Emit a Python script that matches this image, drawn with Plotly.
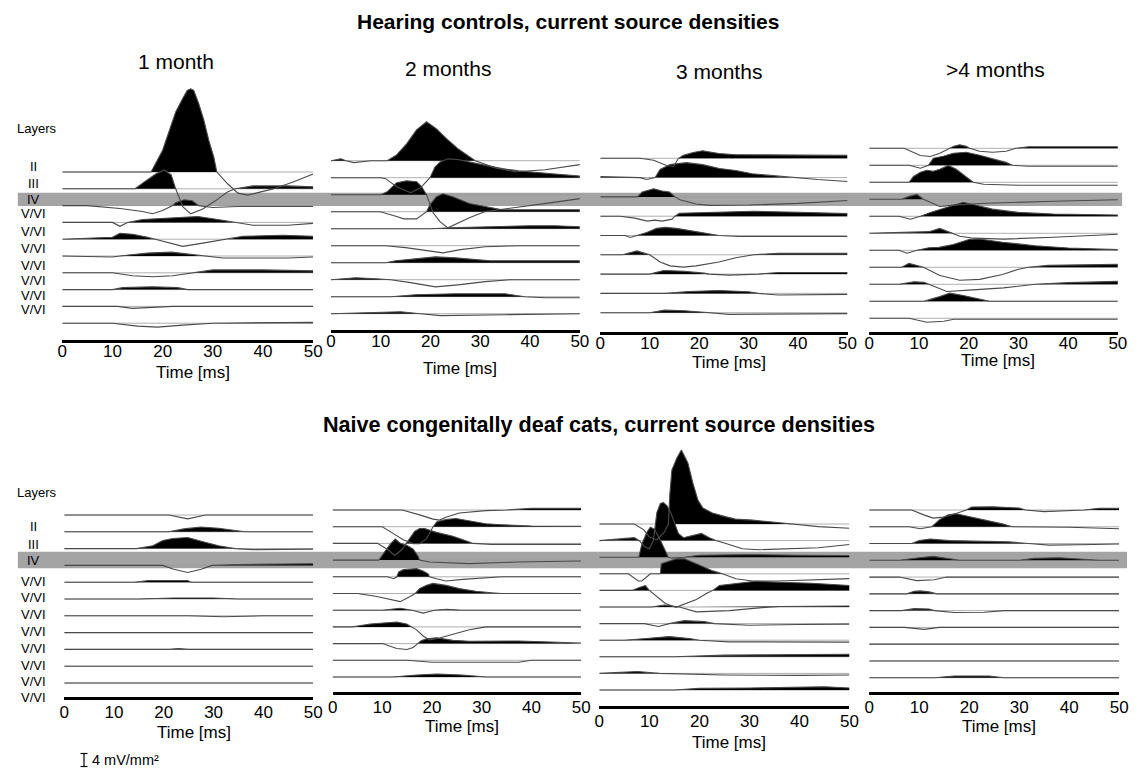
import plotly.graph_objects as go

# ---------------- data ----------------
time_ticks = [0, 10, 20, 30, 40, 50]
group_titles = ["Hearing controls, current source densities",
                "Naive congenitally deaf cats, current source densities"]
age_titles = ["1 month", "2 months", "3 months", ">4 months"]
layer_labels_hc = ["Layers", "II", "III", "IV"] + ["V/VI"] * 7
layer_labels_cd = ["Layers", "II", "III", "IV"] + ["V/VI"] * 8
scale_bar_value = 4  # mV/mm²

# Each CSD trace: list of (time [ms], CSD [mV/mm²]); positive = sink (filled)
hc_1m = [
    [(0,0),(17.7,0),(20,6.7),(21.3,12.8),(22.6,18.5),(24,22.6),(24.9,25.1),(25.6,25.6),(26.2,25.1),(27.2,21),(28.2,16),(29.2,9.7),(30.2,4.6),(30.8,0),(33,-3.7),(35,-6.5),(37,-7.1),(42,-5.2),(46,-3.1),(50,-0.6)],
    [(0,0),(14.5,0),(16.7,2.5),(18.7,4.6),(20.3,5.8),(21.7,4.3),(22.6,0),(24,-5.5),(25.6,-7.7),(28,-6.2),(30.5,-3.7),(33,-0.9),(34.5,0),(38,0.9),(45,0.9),(50,0.6)],
    [(0,0),(5,0),(11.5,-0.9),(16,-1.8),(18,-2.5),(20,-1.5),(22,0),(22.6,0.9),(24.3,1.8),(25.9,1.5),(27.2,0),(30,-0.6),(35,-0.3),(50,-0.3)],
    [(0,0),(10,0),(11.5,-1.2),(13,0),(16,0.9),(22,1.5),(27,1.8),(31,0.9),(34.4,0),(38,-0.9),(45,-0.9),(50,-0.3)],
    [(0,0),(5,0.3),(10,0.6),(11.5,1.8),(14,1.5),(17,0.6),(18.5,0),(21,-1.2),(24,-2.2),(28,-1.2),(33,0),(36,0.9),(44,1.2),(50,0.9)],
    [(0,0),(10,-0.3),(11.5,0),(13,0.3),(17,0.9),(21.7,1.2),(25,0.6),(28,0),(32,-0.6),(45,-0.6),(50,-0.3)],
    [(0,0),(10,0),(14,-0.9),(18,-1.2),(22,-0.9),(26,0),(30,0.9),(40,0.9),(50,0.6)],
    [(0,0),(10,0),(12,0.6),(18,0.9),(23,0.6),(25,0),(50,0)],
    [(0,0),(11,0),(14,-0.6),(18,-0.3),(22,0),(50,0)],
    [(0,0),(10,0),(15,-0.9),(19,-1.2),(24,-0.6),(30,0),(50,0.3)],
]
hc_2m = [
    [(0,0),(2,0.6),(3,0),(4.6,-0.6),(8,0),(11.3,0),(13.2,1.8),(15.2,5.2),(17.2,9.5),(19.2,12),(21.2,9.8),(23.2,6.8),(25.5,3.7),(28,0.9),(29,0),(33,-2.2),(37,-3.4),(43,-2.8),(50,-1.2)],
    [(0,0),(10,0),(11,-0.3),(13.2,-2.8),(16,-4.6),(18,-3.1),(19.9,0),(20.9,3.3),(21.9,4.8),(23.5,5.8),(25.5,5.6),(27.8,4.8),(31.1,3.8),(34.4,2.8),(37.7,2.1),(44.4,1.2),(50,0.5)],
    [(0,0),(10,0),(11.3,0.9),(13.2,3.7),(15.2,4.3),(17.2,4),(18.2,2.5),(19.2,0),(20.5,-5.5),(21.9,-8.3),(23.5,-10.2),(24.5,-9.5),(27.8,-7.1),(31,-5.2),(37.7,-3.7),(44,-2.5),(50,-1.2)],
    [(0,0),(9.9,0),(13.2,-1.5),(14.6,-2.2),(17.2,-2.2),(18.5,-0.6),(19.2,0),(19.9,2.2),(21.2,4.6),(22.5,5.5),(24.5,4.6),(27.8,2.5),(31,1.5),(34.4,0.6),(50,0.6)],
    [(0,0),(20,0),(24,0.3),(30,0.6),(40,0.9),(45,0.9),(50,0.6)],
    [(0,0),(11,0),(15,-0.6),(18,-1.2),(22.5,-2.2),(26,-1.2),(31,-0.3),(38,0),(50,0)],
    [(0,0),(11,0),(13,0.6),(17,1.2),(21,1.8),(25,1.5),(29,0.9),(32,0.6),(50,0.6)],
    [(0,0),(5,0.6),(9,0.3),(12,0),(16,-0.9),(21,-2.2),(26,-1.5),(31,-0.6),(36,0),(50,0)],
    [(0,0),(12,0),(17,0.6),(25,0.9),(35,0.9),(39,0),(43,-0.3),(50,-0.3)],
    [(0,0),(10,0.3),(14,0.6),(18,0),(22,-0.6),(35,-0.3),(50,0)],
]
hc_3m = [
    [(0,0),(8,0),(10.8,-0.6),(13.4,-2.2),(14.8,-2.5),(15.8,0),(16.8,0.9),(18.8,1.8),(20.7,2.3),(24,1.5),(27.4,1.1),(50,0.9)],
    [(0,0.3),(8,0),(9.4,-0.6),(10.5,-0.3),(11.1,0),(12.1,2.5),(14.1,4),(17.4,4.6),(20.7,4),(24.1,2.8),(27.4,2.2),(30.7,1.2),(36,0.5),(38.7,0),(44,-0.6),(50,-1.2)],
    [(0,0),(7.5,0),(8.5,1.5),(10.8,2.5),(12.5,1.8),(14,1.5),(15.1,0),(16.1,-0.9),(19.4,-2.2),(22,-2.6),(30,-2.5),(40,-2),(50,-1.1)],
    [(0,0),(4,0),(7,-0.6),(9.5,-1.5),(11,-1.2),(12.5,-1.5),(14.5,-0.9),(15.1,0),(16,0.9),(24,1.2),(31,1.5),(40,1.2),(50,0.8)],
    [(0,0),(5,0),(6.1,-0.6),(7.4,0),(9.4,0.9),(11.4,2.2),(13.1,2.5),(15.4,2.2),(18.8,1.4),(22,0.6),(24,0),(28,-0.3),(50,-0.3)],
    [(0,0),(4.5,0),(7.4,1.2),(9,0.6),(10,0),(12.1,-2.2),(14.1,-3.4),(16.8,-3.8),(19.4,-3.4),(24,-2.2),(27.4,-0.9),(31,0),(36,0.5),(50,0.5)],
    [(0,0),(10,0),(12.8,1.1),(17,0.9),(21,0.3),(22,0),(26,-0.3),(32,0),(36,0.5),(50,0.5)],
    [(0,0),(13,0),(18,0.6),(24,0.9),(30,0.5),(32,0),(36,-0.5),(50,-0.3)],
    [(0,0),(10,0),(13,0.8),(17,0.6),(21,0.15),(22,0),(26,-0.5),(50,-0.3)],
]
hc_4m = [
    [(0,0),(7,0),(10.3,-2.2),(12.3,-2.5),(14.2,-1.5),(16.2,0),(17,0.6),(18.2,1.1),(19.5,0.6),(20.2,0),(22.2,-0.9),(24.8,-1.2),(27.5,-0.9),(29.5,0),(32,0.5),(50,0.5)],
    [(0,0),(8,0),(10.3,-0.9),(11.9,0),(12.9,2.2),(14.9,2.8),(16.9,3.7),(19.5,4),(22.2,3.1),(24.8,2),(27.5,0.9),(28.8,0),(32,-0.3),(50,-0.3)],
    [(0,0),(8,0),(8.9,1.8),(10.3,3.1),(11.6,3.7),(12.9,3.4),(14.2,4),(15.9,5.2),(17.5,4),(19.5,1.8),(20.9,0),(23,-0.6),(30,-0.9),(50,-0.9)],
    [(0,0),(6.5,0),(8,0.9),(9.6,1.5),(10.9,0),(12.3,-0.9),(14.2,-2.2),(17,-1.8),(23.5,-1.2),(37,-0.6),(50,-0.15)],
    [(0,0),(6,0),(8.3,-0.9),(10.3,0),(12.3,1.2),(14.9,2.5),(18.9,4.3),(21.5,3.4),(24.8,2.2),(30,1.2),(37,0.7),(50,0.4)],
    [(0,0),(5,0.3),(12,0.5),(14.2,1.5),(16.9,0),(18.2,-0.9),(21,-1.5),(27,-1.8),(37,-1.2),(50,-0.3)],
    [(0,0),(6,0),(7.6,-0.9),(9.6,0),(12,0.8),(14,0.9),(16.9,1.8),(20.2,3.4),(22.2,3.5),(26.8,2.5),(33.4,1.4),(40,0.7),(50,0.2)],
    [(0,0),(6.5,0),(8,1.2),(10,0.3),(10.9,0),(14.2,-2.5),(18.2,-4),(22.2,-3.7),(26.8,-2.2),(30,-0.6),(32,0),(36,0.6),(45,0.9),(50,0.9)],
    [(0,0),(6,0),(9,0.8),(11,0.6),(12,0),(15.6,-2.2),(20,-1.8),(27,-1.1),(33.4,0),(40,0.5),(50,0.9)],
    [(0,0),(11,0),(13.6,1.2),(16.2,2.5),(18.9,1.8),(21.5,0.9),(24.2,0),(50,0)],
    [(0,0),(8,0),(11.6,-1.2),(15,-0.9),(17,-0.3),(50,-0.3)],
]
cd_1m = [
    [(0,0),(21,0),(24.8,-1.2),(28.4,0),(50,0)],
    [(0,0),(21,0),(24,0.9),(27.4,1.5),(31,1.1),(34,0.5),(36.3,0),(50,0)],
    [(0,0),(14.5,0),(17.8,0.9),(19.8,2.5),(21.8,3.1),(24.8,3.4),(27.7,2.2),(31,0.9),(34.3,0),(38,-0.3),(50,-0.15)],
    [(0,0),(19.8,0),(22,-1.2),(24.8,-2.2),(27.5,-1.2),(29.7,0),(35,0.3),(50,0.5)],
    [(0,0),(14,0),(17,0.5),(22,0.6),(24.8,0.5),(25.5,0),(50,0)],
    [(0,0),(15,0),(22,0.3),(30,0.3),(35,0),(50,0)],
    [(0,0),(25,0),(32,-0.3),(40,0),(50,0)],
    [(0,0),(50,0)],
    [(0,0),(21,0),(23,0.3),(25,0),(50,0)],
    [(0,0),(50,0)],
    [(0,0),(50,0)],
]
cd_2m = [
    [(0,0),(14,0),(17.5,-1.5),(20.2,-2.8),(21.5,-3.1),(22.8,-2.2),(25.5,-0.9),(30.8,-0.2),(35,0),(40,0.5),(50,0.5)],
    [(0,0),(10,0),(12.3,-2.2),(14.2,-4),(16.2,-5.2),(17.5,-5.2),(18.9,-3.7),(20.2,0),(21,1.5),(22.8,2.2),(24.8,2.5),(27.5,1.8),(30.8,0.9),(34,0.6),(40,0.2),(50,0.15)],
    [(0,0),(9,0),(11,-1.8),(12.5,-3.7),(14,-1.8),(14.8,0),(15.6,1.8),(16.5,3.7),(17.5,4.6),(18.5,4.6),(20.9,3.4),(24.2,2.2),(27.5,0.4),(28.2,0),(32,-0.3),(50,-0.3)],
    [(0,0),(9.3,0),(10.3,2.2),(11.6,4.9),(12.6,6.5),(13.6,5.2),(14.9,4.6),(16.2,3.4),(17.2,1.2),(17.5,0),(19.5,-0.6),(23,-0.9),(27.5,-1.1),(37,-0.6),(50,-0.3)],
    [(0,0),(11,0),(12.3,-0.6),(12.9,0),(13.3,1.5),(14.2,2.2),(16.9,2.5),(18.2,1.8),(19.2,0.9),(19.5,0),(20.9,-0.6),(22.8,-1.3),(26.2,-0.8),(30.8,-0.3),(34,0),(50,0)],
    [(0,0),(5,0),(8.9,-0.9),(11.6,-1.8),(13.6,-2.5),(15.6,-0.9),(16.6,0),(17.5,1.5),(18.9,2.5),(20.2,3.1),(22.8,2.5),(25.5,1.5),(28.8,0.7),(32,0.2),(34,0),(50,0)],
    [(0,0),(10,0),(13.6,0.6),(16,0),(18.2,-0.9),(20.5,0),(23,0.3),(26,0),(50,0)],
    [(0,0),(4,0),(7.6,0.9),(10.9,1.2),(12.9,1.5),(14.9,0.9),(15.9,0),(16.9,-0.9),(18.2,-2.8),(19.5,-4),(21.5,-3.4),(24.2,-2.2),(27.5,-0.9),(30.8,0),(50,0)],
    [(0,0),(10,0),(12.9,-1.5),(14.9,-1.8),(16.2,-1.2),(17.2,0),(17.8,0.9),(18.9,1.5),(20.9,1.8),(24.2,1),(27.5,0.7),(37.4,0.8),(44,0.5),(50,0.2)],
    [(0,0),(15,0),(20,-0.6),(30,-0.5),(37.4,-0.6),(40,0),(50,0)],
    [(0,0),(12,0),(17,0.6),(21,0.9),(26,0.6),(31,0),(50,0)],
]
cd_3m = [
    [(0,0),(7,0),(8.9,-1.8),(10,-4),(11.5,-4.9),(13,-2.5),(13.8,0),(14.1,9.2),(14.5,16.6),(15.5,20.3),(16.4,22.8),(17.7,18.8),(18.7,12.6),(19.7,7.4),(20.7,4.9),(22.6,3.4),(25.3,2.2),(27.2,1.5),(30.6,1.2),(34,0.7),(38.5,0),(43.8,-0.8),(50,-1.3)],
    [(0,0),(4,0.6),(7,0.9),(8,0),(9,-1.8),(10,-2.5),(10.8,0),(11.5,8.6),(12.2,11.4),(12.8,11.7),(13.5,10.8),(14.3,8.6),(15.1,5.2),(15.8,2.2),(16.8,0.9),(18.7,1.5),(20.4,2.2),(22,0.9),(23.3,0),(25.3,-0.9),(28.6,-2.5),(31.9,-2.8),(37.2,-2.5),(43.8,-2.2),(50,-1.2)],
    [(0,0),(7.9,0),(8.5,4),(9.5,7.7),(10.2,9.2),(11,8.6),(12.2,5.2),(13.2,2.2),(13.8,0),(14.5,-0.3),(17,0),(20,0.6),(30,0.8),(40,0.6),(50,0.5)],
    [(0,0),(5.8,0),(7.8,-2.2),(8.5,-2.2),(9.5,-0.9),(10.2,0),(12.2,0),(12.4,3.1),(15.4,4.6),(17,4.6),(19.4,3.1),(22.7,0.9),(24.6,0),(27.3,-1.5),(30.6,-2.2),(35.9,-2.2),(50,-1.5)],
    [(0,0),(6.5,0),(8,0.9),(9.2,1.5),(10,0),(11.2,-1.5),(13.2,-4),(15.3,-5.2),(17,-4.3),(19.4,-2.8),(21.5,-0.9),(22.7,0),(24,1.5),(27.3,2.2),(31.2,2.8),(35.9,2.5),(42.4,2.2),(50,1.5)],
    [(0,0),(10.5,0),(13,0.6),(15.1,0.15),(16,0),(19.4,-1.5),(26,-1.1),(32.5,-0.2),(34,0),(36,0.15),(50,0.3)],
    [(0,0),(9,0),(11.8,-0.9),(14,0),(17,0.9),(21,0.6),(23,0),(30,-0.5),(40,-0.3),(50,-0.15)],
    [(0,0),(5,0),(10,0.6),(14,1.1),(18,0.5),(20,0),(26,-0.5),(40,-0.6),(50,-0.6)],
    [(0,0),(15,0),(25,0.5),(40,0.6),(50,0.8)],
    [(0,0),(7.6,0.6),(12,0),(25,-0.5),(40,-0.6),(50,-0.5)],
    [(0,0),(15,0),(20,0.5),(30,0.6),(45,1),(50,0.6)],
]
cd_4m = [
    [(0,0),(8.5,0),(10.9,-1.5),(12.8,-2.5),(14.8,-2.2),(17.4,-1.1),(19.4,0),(20.5,0.9),(24.7,1),(30,0.6),(31.3,0),(35,-0.5),(43,0),(46,0.5),(50,0.5)],
    [(0,0),(8,0),(10.2,-0.6),(12.5,0),(14.1,2.2),(15.8,3.7),(17.4,4),(20.1,3.1),(23.4,1.9),(26.6,0.9),(28.6,0),(40,-0.15),(50,-0.6)],
    [(0,0),(8.5,0),(10,0.9),(12.2,1.4),(16,0.9),(22,0.8),(28,0.5),(31.9,0),(36,-0.5),(45,-0.3),(50,-0.15)],
    [(0,0),(6,0),(10,0.8),(12.8,1.2),(16.8,0.3),(18,0),(30,0),(33,0.6),(38,0.8),(43,0.3),(46,0),(50,0)],
    [(0,0),(6,0),(9.5,-1.1),(13,-0.8),(15.5,0),(50,0)],
    [(0,0),(7.5,0),(9,0.8),(10.2,0.9),(12,0.6),(13.5,0),(50,0)],
    [(0,0),(6.5,0),(9,0.6),(12,0.5),(13,0),(17,-0.6),(23,-0.5),(27,0),(50,0)],
    [(0,0),(7,0),(11,-0.6),(14,0),(50,0)],
    [(0,0),(50,0)],
    [(0,0),(50,0)],
    [(0,0),(13,0),(17,0.5),(24,0.5),(27,0),(50,0)],
]

# ---------------- style / layout ----------------
W, H = 1139, 769
PX_PER_UNIT = 13 / 4          # scale bar: 4 mV/mm² = 13 px
FONT = "Liberation Sans, Arial, Helvetica, sans-serif"

# per panel: data, x of t=0, x of t=50, first baseline, baseline step, axis line, top (all px)
panels = [
    dict(d=hc_1m, x0=58,    x1=312,    base=172,   step=16.8, axis=340,   top=75),
    dict(d=hc_2m, x0=330,   x1=582,    base=160.7, step=17.0, axis=330,   top=75),
    dict(d=hc_3m, x0=602.7, x1=853,    base=158.3, step=19.3, axis=331.7, top=75),
    dict(d=hc_4m, x0=875,   x1=1126.7, base=148.3, step=17.0, axis=331.7, top=75),
    dict(d=cd_1m, x0=60,    x1=312,    base=515,   step=16.8, axis=696.7, top=440),
    dict(d=cd_2m, x0=331.7, x1=583.3,  base=510,   step=16.7, axis=691.7, top=440),
    dict(d=cd_3m, x0=601.7, x1=855,    base=524,   step=16.6, axis=706,   top=440),
    dict(d=cd_4m, x0=875,   x1=1128,   base=510,   step=16.77, axis=691.7, top=440),
]
age_title_pos = [(173.5, 61.5), (449, 68.5), (723, 71.5), (1002.5, 69.5)]
xlabel_y = [372, 368.5, 362, 360.5, 732, 726.5, 742, 726]
label_y_hc = [128.3, 166.7, 184, 199.3, 213.3, 231, 248.3, 265, 280.7, 295, 309.3]
label_y_cd = [492.7, 526, 544, 560.7, 581.7, 597.7, 614.3, 631, 648.3, 665, 681, 697.3]

def px(x):
    return x / W

def py(y):
    return 1 - y / H

fig = go.Figure()
layout = dict(width=W, height=H, margin=dict(l=0, r=0, t=0, b=0),
              paper_bgcolor="white", plot_bgcolor="rgba(0,0,0,0)",
              showlegend=False, font=dict(family=FONT, color="black"))
annotations = []
shapes = []

for k, p in enumerate(panels):
    ax = "" if k == 0 else str(k + 1)
    xa, ya = "x" + ax, "y" + ax
    layout["xaxis" + ax] = dict(
        domain=[px(p["x0"]), px(p["x1"])], range=[0, 50], anchor=ya,
        showline=True, linecolor="black", linewidth=3,
        tickvals=time_ticks, ticks="", showgrid=False, zeroline=False,
        tickfont=dict(size=17, family=FONT, color="black"),
        ticklabelstandoff=-6 if k < 4 else -2, fixedrange=True)
    layout["yaxis" + ax] = dict(
        domain=[py(p["axis"]), py(p["top"])],
        range=[-(p["axis"] - p["base"]), p["base"] - p["top"]],
        visible=False, fixedrange=True, anchor=xa)

    # baselines
    bx, by = [], []
    for i in range(len(p["d"])):
        b = -i * p["step"]
        bx += [0, 50, None]
        by += [b, b, None]
    fig.add_trace(go.Scatter(x=bx, y=by, xaxis=xa, yaxis=ya, mode="lines",
                             line=dict(color="#9c9c9c", width=0.8), hoverinfo="skip"))
    # sinks (positive) filled black
    for i, tr in enumerate(p["d"]):
        b = -i * p["step"]
        ts = [t for t, v in tr]
        vs = [max(v, 0) for t, v in tr]
        if max(vs) <= 0:
            continue
        fx = ts + ts[::-1]
        fy = [b + v * PX_PER_UNIT for v in vs] + [b] * len(ts)
        fig.add_trace(go.Scatter(x=fx, y=fy, xaxis=xa, yaxis=ya, mode="lines",
                                 fill="toself", fillcolor="black",
                                 line=dict(width=0), hoverinfo="skip"))
    # full CSD traces
    lx, ly = [], []
    for i, tr in enumerate(p["d"]):
        b = -i * p["step"]
        lx += [t for t, v in tr] + [None]
        ly += [b + v * PX_PER_UNIT for t, v in tr] + [None]
    fig.add_trace(go.Scatter(x=lx, y=ly, xaxis=xa, yaxis=ya, mode="lines",
                             line=dict(color="#4a4a4a", width=1.1), hoverinfo="skip"))

    annotations.append(dict(x=px((p["x0"] + p["x1"]) / 2 + 5), y=py(xlabel_y[k]),
                            xref="paper", yref="paper", text="Time [ms]", showarrow=False,
                            xanchor="center", yanchor="middle",
                            font=dict(size=17, family=FONT, color="black")))

# group titles
annotations.append(dict(x=px(570), y=py(22), xref="paper", yref="paper",
                        text="<b>%s</b>" % group_titles[0], showarrow=False,
                        xanchor="center", yanchor="middle",
                        font=dict(size=21, family=FONT, color="black")))
annotations.append(dict(x=px(601), y=py(424.5), xref="paper", yref="paper",
                        text="<b>%s</b>" % group_titles[1], showarrow=False,
                        xanchor="center", yanchor="middle",
                        font=dict(size=21.6, family=FONT, color="black")))
# age titles
for t, (x, y) in zip(age_titles, age_title_pos):
    annotations.append(dict(x=px(x), y=py(y), xref="paper", yref="paper", text=t,
                            showarrow=False, xanchor="center", yanchor="middle",
                            font=dict(size=21, family=FONT, color="black")))
# layer labels
for labels, ys in ((layer_labels_hc, label_y_hc), (layer_labels_cd, label_y_cd)):
    for lab, y in zip(labels, ys):
        if lab == "Layers":
            annotations.append(dict(x=px(10), y=py(y), xref="paper", yref="paper", text=lab,
                                    showarrow=False, xanchor="left", yanchor="middle",
                                    font=dict(size=13, family=FONT, color="black")))
        else:
            annotations.append(dict(x=px(29), y=py(y), xref="paper", yref="paper", text=lab,
                                    showarrow=False, xanchor="center", yanchor="middle",
                                    font=dict(size=13, family=FONT, color="black")))

# layer IV bands
shapes.append(dict(type="rect", xref="paper", yref="paper", x0=px(13), x1=px(1131),
                   y0=py(206), y1=py(192.7), fillcolor="#a4a4a4", line=dict(width=0), layer="below"))
shapes.append(dict(type="rect", xref="paper", yref="paper", x0=px(13), x1=px(1136),
                   y0=py(568.3), y1=py(551.7), fillcolor="#a4a4a4", line=dict(width=0), layer="below"))

# scale bar
bar_h = scale_bar_value * PX_PER_UNIT
y_bot, y_top = 766.5, 766.5 - bar_h
for (xa0, ya0, xa1, ya1) in [(80, y_bot, 80, y_top), (76.5, y_bot, 83.5, y_bot), (76.5, y_top, 83.5, y_top)]:
    shapes.append(dict(type="line", xref="paper", yref="paper", x0=px(xa0), y0=py(ya0),
                       x1=px(xa1), y1=py(ya1), line=dict(color="black", width=1.2)))
annotations.append(dict(x=px(86), y=py(760), xref="paper", yref="paper",
                        text="%d mV/mm²" % scale_bar_value, showarrow=False,
                        xanchor="left", yanchor="middle",
                        font=dict(size=14.5, family=FONT, color="black")))

layout["annotations"] = annotations
layout["shapes"] = shapes
fig.update_layout(**layout)
fig.write_html("out.html", config={"displayModeBar": False},
               post_script="document.body.style.margin='0px';document.body.style.overflow='hidden';")
